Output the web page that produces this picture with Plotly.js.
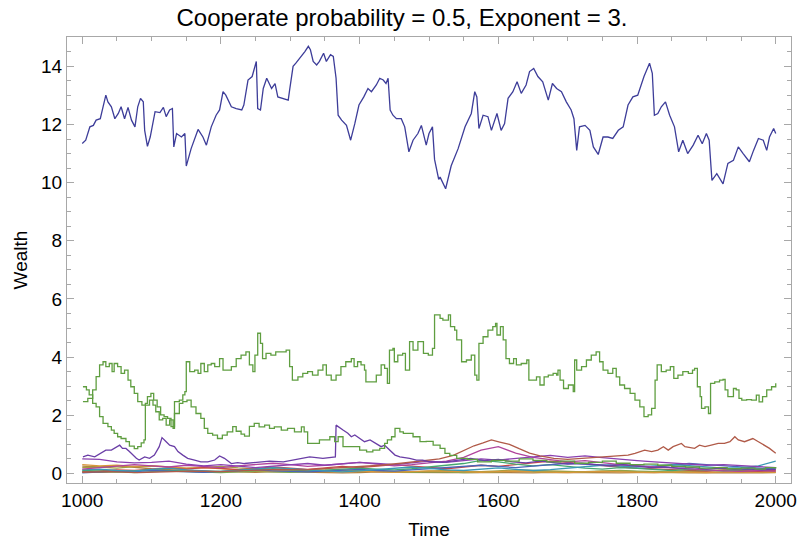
<!DOCTYPE html>
<html>
<head>
<meta charset="utf-8">
<script src="https://cdn.plot.ly/plotly-3.0.1.min.js"></script>
<style>html,body{margin:0;padding:0;background:#fff;}#chart{width:804px;height:544px;}</style>
</head>
<body>
<div id="chart"></div>
<script>
// ---------- data ----------
const blueT = [1000,1005,1011,1016,1020,1026,1030,1034,1037,1042,1047,1052,1056,1061,1066,1071,1076,1080,1084,1088,1090,1094,1098,1105,1112,1117,1121,1126,1130,1132,1136,1143,1148,1150,1157,1167,1174,1179,1186,1193,1198,1203,1207,1215,1222,1230,1233,1239,1245,1249,1251,1253,1257,1261,1266,1273,1278,1282,1290,1297,1299,1304,1308,1314,1321,1326,1329,1333,1338,1342,1348,1352,1358,1362,1366,1369,1374,1381,1387,1393,1399,1406,1412,1417,1424,1429,1434,1438,1441,1444,1448,1453,1460,1465,1471,1477,1484,1489,1496,1500,1505,1508,1514,1516,1524,1532,1542,1552,1561,1566,1569,1572,1578,1585,1590,1598,1604,1609,1614,1621,1627,1633,1640,1645,1651,1657,1664,1672,1678,1684,1691,1698,1705,1709,1713,1717,1725,1732,1737,1744,1751,1758,1765,1773,1780,1787,1794,1801,1810,1818,1822,1825,1830,1835,1841,1847,1854,1860,1866,1873,1881,1888,1894,1900,1904,1908,1915,1924,1931,1939,1946,1953,1962,1968,1975,1982,1987,1991,1997,2000];
const blueV = [11.35,11.46,11.92,11.97,12.15,12.2,12.61,13.01,12.78,12.61,12.2,12.38,12.61,12.2,12.59,12.15,11.92,12.61,12.9,12.78,11.8,11.25,11.57,12.44,12.41,12.59,12.27,12.5,12.55,11.23,11.69,11.57,11.69,10.57,11.17,11.83,11.57,11.29,11.92,12.32,12.5,13.13,13.01,12.61,12.55,12.5,12.67,13.53,13.65,14.0,14.17,12.55,12.5,13.24,13.59,13.24,13.41,12.95,12.9,12.84,13.18,14.0,14.11,14.28,14.51,14.69,14.57,14.17,14.05,14.17,14.45,14.17,14.4,14.34,13.59,12.32,12.15,11.97,11.46,12.03,12.67,12.95,13.24,13.13,13.36,13.59,13.53,13.41,13.59,12.5,12.32,12.2,12.2,11.92,11.06,11.46,11.69,11.97,11.29,11.69,11.92,10.8,10.11,10.19,9.79,10.58,11.17,11.92,12.38,13.13,12.95,11.86,12.32,12.27,11.8,12.38,11.8,12.03,12.9,13.13,13.47,13.07,13.36,13.82,13.93,13.65,13.47,12.84,13.41,13.24,13.13,12.78,12.5,12.2,11.11,11.92,11.97,11.8,11.23,10.97,11.57,11.57,11.52,11.8,11.92,12.67,12.95,13.01,13.65,14.11,13.76,12.32,12.38,12.61,12.78,12.32,11.92,11.06,11.46,11.0,11.29,11.63,11.34,11.69,11.46,10.08,10.31,9.96,10.66,10.77,11.23,11.0,10.72,11.11,11.52,11.46,11.11,11.57,11.86,11.69];

const greenAT = [1001,1006,1010,1015,1020,1025,1030,1037,1042,1046,1051,1056,1063,1068,1075,1080,1085,1089,1091,1097,1102,1106,1111,1116,1121,1126,1131,1133,1140,1145,1148,1150,1155,1162,1167,1171,1176,1181,1186,1191,1198,1203,1210,1215,1222,1229,1236,1241,1246,1249,1253,1257,1260,1265,1272,1279,1287,1294,1299,1303,1311,1318,1325,1332,1340,1347,1352,1359,1366,1373,1380,1388,1392,1397,1402,1407,1409,1416,1424,1431,1436,1440,1443,1448,1450,1455,1462,1466,1472,1477,1484,1492,1499,1505,1508,1516,1520,1528,1531,1537,1540,1547,1554,1561,1566,1569,1572,1578,1585,1592,1596,1598,1603,1607,1611,1616,1622,1626,1633,1641,1644,1650,1655,1660,1666,1672,1679,1684,1686,1689,1694,1701,1708,1710,1713,1720,1727,1734,1741,1746,1751,1758,1765,1770,1775,1782,1790,1797,1804,1810,1816,1821,1826,1829,1835,1842,1848,1853,1859,1866,1874,1880,1883,1887,1891,1893,1898,1903,1906,1912,1919,1924,1927,1931,1939,1943,1947,1951,1958,1965,1972,1976,1981,1987,1994,2000];
const greenAV = [2.98,2.87,2.70,2.41,2.29,1.95,1.72,1.61,1.49,1.38,1.26,1.20,1.09,0.94,0.85,0.92,1.05,1.15,2.35,2.52,2.35,2.12,1.84,1.89,1.66,1.84,1.55,2.47,2.52,2.70,2.81,3.84,3.50,3.55,3.44,3.78,3.50,3.73,3.78,3.67,3.95,3.55,3.55,3.67,3.95,4.07,4.18,3.73,3.50,4.07,4.82,4.47,3.95,4.13,4.07,4.18,4.18,4.24,3.67,3.21,3.32,3.44,3.50,3.38,3.55,3.73,3.38,3.21,3.38,3.67,3.84,3.95,3.67,3.84,3.73,3.55,3.15,3.15,3.38,3.73,3.61,3.10,4.24,4.30,3.84,4.07,4.13,3.55,4.53,4.24,4.53,4.13,4.07,4.30,5.45,5.33,5.27,5.45,5.05,4.93,4.59,3.84,3.90,4.07,3.38,3.21,4.47,4.70,4.93,5.05,5.16,4.76,5.05,4.59,3.95,3.78,3.95,3.73,3.78,3.90,3.21,3.21,3.32,3.04,3.32,3.38,3.44,3.38,3.55,3.21,2.92,3.04,2.81,3.90,3.55,3.67,3.90,4.07,4.18,3.84,3.55,3.44,3.61,3.32,3.04,2.92,2.75,2.52,2.29,1.95,2.01,2.24,3.21,3.73,3.50,3.55,3.67,3.27,3.38,3.50,3.44,3.55,3.61,2.98,2.64,2.24,2.29,2.06,3.10,3.15,3.21,3.23,2.87,2.64,2.92,2.87,2.58,2.52,2.54,2.52,2.69,2.46,2.64,2.87,2.98,3.10];

const greenBT = [1001,1008,1015,1020,1025,1030,1034,1039,1043,1046,1051,1056,1061,1066,1070,1075,1080,1086,1091,1094,1099,1103,1108,1113,1118,1123,1128,1133,1140,1145,1151,1157,1164,1171,1176,1181,1188,1195,1202,1209,1217,1222,1229,1234,1241,1248,1255,1263,1270,1277,1287,1296,1306,1316,1320,1325,1332,1342,1357,1364,1369,1376,1390,1400,1410,1419,1429,1436,1440,1446,1451,1458,1463,1470,1477,1487,1496,1506,1516,1523,1530,1540,1555,1570,1590,1610,1630,1650,1670,1690,1710,1730,1750,1770,1790,1810,1830,1850,1870,1890,1910,1930,1950,1970,1985,2000];
const greenBV = [2.47,2.58,2.87,3.33,3.73,3.84,3.67,3.78,3.50,3.78,3.67,3.44,3.55,3.21,2.98,2.75,2.47,2.35,2.41,2.64,2.75,2.52,2.29,2.01,1.95,1.89,1.61,2.06,2.41,2.47,2.52,2.29,2.06,1.89,1.55,1.38,1.32,1.20,1.32,1.43,1.61,1.45,1.35,1.28,1.62,1.72,1.60,1.66,1.55,1.60,1.49,1.55,1.43,1.60,1.43,1.03,1.03,1.15,1.26,1.09,1.26,0.92,0.92,0.80,0.74,0.80,0.86,1.03,1.15,1.26,1.55,1.43,1.38,1.38,1.26,1.09,1.10,0.97,0.86,0.69,0.62,0.52,0.48,0.40,0.45,0.42,0.50,0.45,0.40,0.42,0.35,0.38,0.42,0.35,0.30,0.32,0.28,0.24,0.22,0.18,0.20,0.16,0.18,0.15,0.20,0.17];

const violetT = [1001,1008,1018,1027,1034,1042,1049,1054,1058,1063,1068,1073,1078,1082,1090,1097,1104,1111,1115,1121,1126,1133,1138,1145,1152,1162,1171,1181,1191,1198,1205,1215,1224,1234,1250,1270,1290,1310,1328,1347,1365,1366,1369,1376,1383,1388,1393,1400,1407,1415,1424,1431,1436,1443,1451,1458,1465,1472,1482,1491,1501,1520,1540,1560,1580,1600,1620,1640,1660,1680,1700,1720,1740,1760,1780,1800,1820,1840,1860,1880,1900,1920,1940,1960,1980,2000];
const violetV = [0.57,0.63,0.57,0.69,0.80,0.80,0.89,0.97,0.86,0.86,0.75,0.63,0.52,0.46,0.57,0.52,0.63,0.92,1.23,1.09,0.97,0.92,0.75,0.63,0.52,0.46,0.40,0.40,0.46,0.60,0.52,0.34,0.37,0.34,0.38,0.42,0.40,0.48,0.57,0.52,0.57,1.66,1.60,1.49,1.38,1.26,1.32,1.20,1.09,1.15,1.03,0.92,0.97,0.80,0.63,0.57,0.55,0.52,0.46,0.46,0.40,0.38,0.45,0.52,0.44,0.48,0.40,0.36,0.42,0.38,0.32,0.35,0.30,0.26,0.30,0.24,0.20,0.22,0.18,0.20,0.15,0.18,0.14,0.16,0.12,0.14];

const brownT = [1000,1040,1080,1120,1160,1200,1240,1280,1320,1360,1400,1430,1460,1490,1515,1535,1550,1565,1578,1590,1602,1616,1630,1645,1660,1680,1700,1720,1745,1765,1787,1797,1811,1821,1830,1838,1845,1852,1859,1864,1869,1883,1890,1898,1907,1917,1926,1934,1941,1946,1955,1967,1975,1984,1991,2000];
const brownV = [0.04,0.06,0.03,0.05,0.08,0.06,0.10,0.14,0.12,0.18,0.22,0.28,0.35,0.42,0.50,0.62,0.78,0.95,1.05,1.15,1.08,1.00,0.85,0.70,0.60,0.52,0.48,0.52,0.56,0.60,0.63,0.69,0.80,0.75,0.80,0.92,0.80,0.92,0.97,1.03,0.92,0.86,0.97,0.92,0.97,1.03,1.03,1.09,1.26,1.15,1.09,1.20,1.09,0.97,0.86,0.69];

// small series sampled every 25 time units
const smallT = [1000,1025,1050,1075,1100,1125,1150,1175,1200,1225,1250,1275,1300,1325,1350,1375,1400,1425,1450,1475,1500,1525,1550,1575,1600,1625,1650,1675,1700,1725,1750,1775,1800,1825,1850,1875,1900,1925,1950,1975,2000];
const plumV   = [0.50,0.48,0.40,0.36,0.38,0.42,0.32,0.26,0.30,0.24,0.20,0.25,0.30,0.34,0.28,0.32,0.38,0.34,0.30,0.36,0.42,0.38,0.45,0.50,0.46,0.52,0.58,0.62,0.55,0.60,0.54,0.48,0.44,0.40,0.36,0.32,0.28,0.30,0.26,0.22,0.20];
const magentaV= [0.15,0.20,0.25,0.30,0.26,0.22,0.28,0.24,0.20,0.26,0.30,0.35,0.30,0.24,0.28,0.34,0.38,0.32,0.26,0.30,0.36,0.42,0.55,0.80,0.92,0.70,0.55,0.48,0.40,0.44,0.36,0.30,0.26,0.22,0.18,0.15,0.12,0.09,0.07,0.10,0.08];
const cyanV   = [0.12,0.15,0.10,0.08,0.14,0.18,0.12,0.09,0.06,0.10,0.15,0.20,0.16,0.12,0.08,0.05,0.09,0.14,0.18,0.22,0.17,0.12,0.10,0.15,0.19,0.14,0.10,0.13,0.18,0.24,0.28,0.25,0.22,0.26,0.30,0.27,0.22,0.18,0.20,0.26,0.42];
const orangeV = [0.30,0.26,0.28,0.24,0.27,0.22,0.18,0.20,0.15,0.12,0.10,0.08,0.11,0.09,0.07,0.05,0.08,0.06,0.04,0.06,0.09,0.07,0.05,0.04,0.06,0.08,0.05,0.04,0.03,0.05,0.07,0.05,0.04,0.03,0.05,0.04,0.03,0.05,0.04,0.03,0.04];
const oliveV  = [0.20,0.22,0.18,0.23,0.25,0.20,0.17,0.21,0.24,0.19,0.15,0.12,0.10,0.13,0.11,0.08,0.06,0.09,0.07,0.05,0.08,0.10,0.07,0.06,0.09,0.12,0.10,0.08,0.06,0.05,0.07,0.09,0.06,0.05,0.04,0.06,0.08,0.10,0.07,0.05,0.06];
const redV    = [0.05,0.08,0.12,0.10,0.14,0.18,0.15,0.20,0.17,0.13,0.16,0.22,0.18,0.14,0.19,0.24,0.20,0.26,0.30,0.25,0.20,0.16,0.22,0.28,0.24,0.30,0.36,0.42,0.38,0.32,0.27,0.22,0.18,0.15,0.12,0.10,0.08,0.11,0.09,0.07,0.10];
const tealV   = [0.10,0.08,0.06,0.09,0.12,0.10,0.08,0.05,0.07,0.10,0.13,0.16,0.12,0.09,0.11,0.14,0.18,0.15,0.12,0.16,0.22,0.28,0.34,0.45,0.40,0.32,0.26,0.30,0.24,0.18,0.15,0.20,0.17,0.13,0.10,0.14,0.12,0.09,0.12,0.15,0.18];
const royalV  = [0.02,0.05,0.08,0.06,0.10,0.08,0.05,0.04,0.07,0.10,0.12,0.09,0.06,0.05,0.08,0.11,0.14,0.10,0.08,0.12,0.16,0.20,0.25,0.28,0.24,0.20,0.25,0.30,0.35,0.32,0.28,0.30,0.26,0.22,0.28,0.34,0.30,0.26,0.22,0.18,0.15];
const tanV    = [0.25,0.22,0.26,0.20,0.16,0.13,0.10,0.08,0.06,0.05,0.04,0.06,0.05,0.03,0.04,0.02,0.03,0.05,0.04,0.03,0.02,0.03,0.04,0.03,0.02,0.03,0.02,0.04,0.03,0.02,0.03,0.02,0.03,0.04,0.03,0.02,0.03,0.02,0.03,0.02,0.03];
const sageV   = [0.06,0.04,0.05,0.03,0.06,0.08,0.06,0.04,0.03,0.05,0.07,0.05,0.04,0.06,0.09,0.12,0.10,0.07,0.05,0.04,0.06,0.05,0.03,0.04,0.06,0.08,0.06,0.05,0.04,0.06,0.08,0.10,0.08,0.06,0.05,0.07,0.09,0.12,0.10,0.13,0.11];

const xTicks = [1000,1200,1400,1600,1800,2000];
const yTicks = [0,2,4,6,8,10,12,14];

// ---------- traces ----------
function line(x, y, color, shape) {
  return {x: x, y: y, type: 'scatter', mode: 'lines', hoverinfo: 'skip',
          line: {color: color, width: 1.3, shape: shape || 'linear'}, showlegend: false};
}
const traces = [
  line(smallT, tanV, '#b08040'),
  line(smallT, sageV, '#7aa852'),
  line(smallT, oliveV, '#a3a040'),
  line(smallT, orangeV, '#d8963a'),
  line(smallT, redV, '#c64848'),
  line(smallT, tealV, '#45a870'),
  line(smallT, royalV, '#4a66b8'),
  line(smallT, cyanV, '#3a98b4'),
  line(smallT, magentaV, '#b0449c'),
  line(smallT, plumV, '#8a40b0'),
  line(brownT, brownV, '#b05a48'),
  line(violetT, violetV, '#6a3ea6'),
  line(greenBT, greenBV, '#5f9e40', 'hv'),
  line(greenAT, greenAV, '#5f9e40', 'hv'),
  line(blueT, blueV, '#3d3d99')
];

const frame = '#a8a8a8';
const fnt = 'Liberation Sans, Arial, Helvetica, sans-serif';
const layout = {
  width: 804, height: 544,
  paper_bgcolor: '#ffffff', plot_bgcolor: '#ffffff',
  margin: {l: 67, r: 13, t: 37, b: 61},
  font: {family: fnt, color: '#000', size: 19},
  title: {text: 'Cooperate probability = 0.5, Exponent = 3.', font: {family: fnt, size: 24, color: '#000'},
          x: 0.5, xref: 'container', xanchor: 'center', y: 0.968, yref: 'container', yanchor: 'middle'},
  xaxis: {
    range: [978, 2022], tickvals: xTicks, ticktext: xTicks.map(String),
    ticks: 'inside', ticklen: 7, tickwidth: 1, tickcolor: frame,
    minor: {dtick: 50, tick0: 1000, ticks: 'inside', ticklen: 4, tickcolor: frame, tickwidth: 1},
    showline: true, linecolor: frame, linewidth: 1, mirror: 'ticks',
    showgrid: false, zeroline: false,
    tickfont: {family: fnt, size: 19, color: '#000'},
    title: {text: 'Time', font: {family: fnt, size: 19, color: '#000'}, standoff: 12}
  },
  yaxis: {
    range: [-0.33, 15.01], tickvals: yTicks, ticktext: yTicks.map(String),
    ticks: 'inside', ticklen: 7, tickwidth: 1, tickcolor: frame,
    minor: {dtick: 0.5, tick0: 0, ticks: 'inside', ticklen: 4, tickcolor: frame, tickwidth: 1},
    showline: true, linecolor: frame, linewidth: 1, mirror: 'ticks',
    showgrid: false, zeroline: false,
    tickfont: {family: fnt, size: 19, color: '#000'},
    title: {text: 'Wealth', font: {family: fnt, size: 19, color: '#000'}, standoff: 8}
  }
};
Plotly.newPlot('chart', traces, layout, {displayModeBar: false, staticPlot: true});
</script>
</body>
</html>
